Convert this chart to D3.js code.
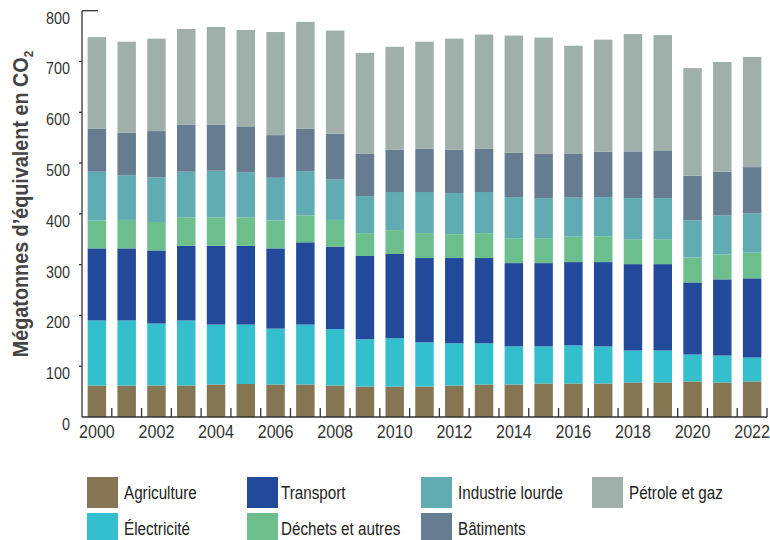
<!DOCTYPE html>
<html>
<head>
<meta charset="utf-8">
<script src="https://cdn.jsdelivr.net/npm/d3@7"></script>
<style>
	body { margin: 0; background: #fff; }
	svg text { font-family: "Liberation Sans", Arial, sans-serif; }
</style>
</head>
<body>
<div id="chart"></div>
<script>
// emissions by economic sector, Mt CO2 eq
const years = d3.range(2000, 2023);
const agriculture = [62,62,62,62,64,65,64,64,62,60,60,60,62,64,64,66,66,66,68,68,70,68,70];
const electricite = [128,128,122,128,118,117,110,118,111,93,95,87,83,81,75,73,75,73,63,63,53,53,47];
const transport   = [142,142,144,147,155,155,158,162,162,164,166,166,168,168,164,164,164,166,170,170,142,150,156];
const dechets     = [55,56,56,56,56,56,55,53,53,45,47,49,47,49,49,49,50,51,49,49,49,49,51];
const industrie   = [96,88,88,90,92,89,84,87,80,73,75,81,81,81,81,79,77,77,81,81,73,77,77];
const batiments   = [85,84,91,93,91,89,84,84,90,83,83,85,85,85,87,87,87,89,92,94,88,86,91];
const petrole     = [180,179,182,188,192,191,203,210,203,199,203,211,219,225,231,229,212,221,231,227,212,216,217];
const yTicks = [0,100,200,300,400,500,600,700,800];

// stacking order, bottom to top
const sectors = [
	{key: 'agriculture', label: 'Agriculture', values: agriculture, color: '#857552'},
	{key: 'electricite', label: 'Électricité', values: electricite, color: '#33bfcd'},
	{key: 'transport', label: 'Transport', values: transport, color: '#22499a'},
	{key: 'dechets', label: 'Déchets et autres', values: dechets, color: '#6cbf8c'},
	{key: 'industrie', label: 'Industrie lourde', values: industrie, color: '#61abb3'},
	{key: 'batiments', label: 'Bâtiments', values: batiments, color: '#667c91'},
	{key: 'petrole', label: 'Pétrole et gaz', values: petrole, color: '#9fb0aa'}
];

// legend layout: column order as in the picture
const legendOrder = ['agriculture','electricite','transport','dechets','industrie','batiments','petrole'];
const legendCols = [87, 247, 421, 592];

const width = 770, height = 540;
const m = {top: 10.7, left: 82, right: 3, bottom: 123};
const narrow = 0.87; // the source font is a condensed face

const table = years.map((yr, i) => {
	const row = {year: yr};
	sectors.forEach(s => row[s.key] = s.values[i]);
	return row;
});

const stack = d3.stack().keys(sectors.map(s => s.key))(table);

const svg = d3.select('#chart').append('svg')
	.attr('width', width)
	.attr('height', height);

const x = d3.scaleBand()
	.domain(years)
	.range([m.left, width - m.right])
	.paddingInner(0.38)
	.paddingOuter(0.19);

const y = d3.scaleLinear()
	.domain([0, 800])
	.range([height - m.bottom, m.top]);

const color = d3.scaleOrdinal()
	.domain(sectors.map(s => s.key))
	.range(sectors.map(s => s.color));

// condensed text: a group that is squeezed horizontally
function narrowText(parent, tx, ty, str, size, anchor, fill, weight){
	return parent.append('g')
		.attr('transform', 'translate(' + tx + ',' + ty + ') scale(' + narrow + ',1)')
		.append('text')
			.attr('text-anchor', anchor)
			.attr('font-size', size)
			.attr('font-weight', weight || 'normal')
			.attr('fill', fill)
			.text(str);
}

//bars
svg.append('g').selectAll('g')
	.data(stack)
	.join('g')
		.attr('fill', d => color(d.key))
	.selectAll('rect')
	.data(d => d)
	.join('rect')
		.attr('x', d => x(d.data.year))
		.attr('width', x.bandwidth())
		.attr('y', d => y(d[1]))
		.attr('height', d => y(d[0]) - y(d[1]));

const axisColor = '#333';

//y axis
const yAxis = svg.append('g').attr('class', 'y axis');
yAxis.append('line')
	.attr('x1', m.left).attr('x2', m.left)
	.attr('y1', y(800)).attr('y2', y(0))
	.attr('stroke', axisColor).attr('stroke-width', 1.3);
yAxis.selectAll('.ytick')
	.data(yTicks.slice(1, -1))
	.join('line')
		.attr('class', 'ytick')
		.attr('x1', m.left - 3).attr('x2', m.left)
		.attr('y1', d => y(d)).attr('y2', d => y(d))
		.attr('stroke', axisColor).attr('stroke-width', 1.3);
// top tick drawn inward
yAxis.append('line')
	.attr('x1', m.left).attr('x2', m.left + 16)
	.attr('y1', y(800)).attr('y2', y(800))
	.attr('stroke', axisColor).attr('stroke-width', 1.3);
yTicks.forEach(function(v){
	narrowText(yAxis, 70, y(v) + 13, v, 16.5, 'end', '#333');
});

//x axis, ticks between bars pointing up
const step = x.step();
const xAxisG = svg.append('g').attr('class', 'x axis');
xAxisG.append('line')
	.attr('x1', m.left).attr('x2', width - m.right)
	.attr('y1', y(0)).attr('y2', y(0))
	.attr('stroke', axisColor).attr('stroke-width', 1.5);
xAxisG.selectAll('.xtick')
	.data(years.slice(1).concat(['end']))
	.join('line')
		.attr('class', 'xtick')
		.attr('x1', d => d === 'end' ? width - m.right : x(d) - step * 0.19)
		.attr('x2', d => d === 'end' ? width - m.right : x(d) - step * 0.19)
		.attr('y1', y(0)).attr('y2', y(0) - 9)
		.attr('stroke', axisColor).attr('stroke-width', 1.3);
years.filter(yr => yr % 2 === 0).forEach(function(yr){
	narrowText(xAxisG, x(yr) + x.bandwidth() / 2, 438, yr, 18.5, 'middle', '#333');
});

//y axis title
const yTitle = svg.append('g')
	.attr('transform', 'translate(28,204) rotate(-90) scale(0.9,1)')
	.append('text')
		.attr('text-anchor', 'middle')
		.attr('font-size', 22)
		.attr('font-weight', 'bold')
		.attr('fill', '#444');
yTitle.append('tspan').text('Mégatonnes d’équivalent en CO');
yTitle.append('tspan')
	.attr('font-size', 13)
	.attr('dy', 5)
	.text('2');

//legend
const legend = svg.append('g').attr('class', 'legend');
legendOrder.forEach(function(key, i){
	const s = sectors.find(d => d.key === key);
	const col = Math.floor(i / 2), row = i % 2;
	const lx = legendCols[col];
	const ly = 477 + row * 36;
	legend.append('rect')
		.attr('x', lx).attr('y', ly)
		.attr('width', 31).attr('height', 31)
		.attr('fill', color(key));
	narrowText(legend, lx + (col === 1 ? 34 : 37), ly + 22, s.label, 17.5, 'start', '#222');
});
</script>
</body>
</html>
